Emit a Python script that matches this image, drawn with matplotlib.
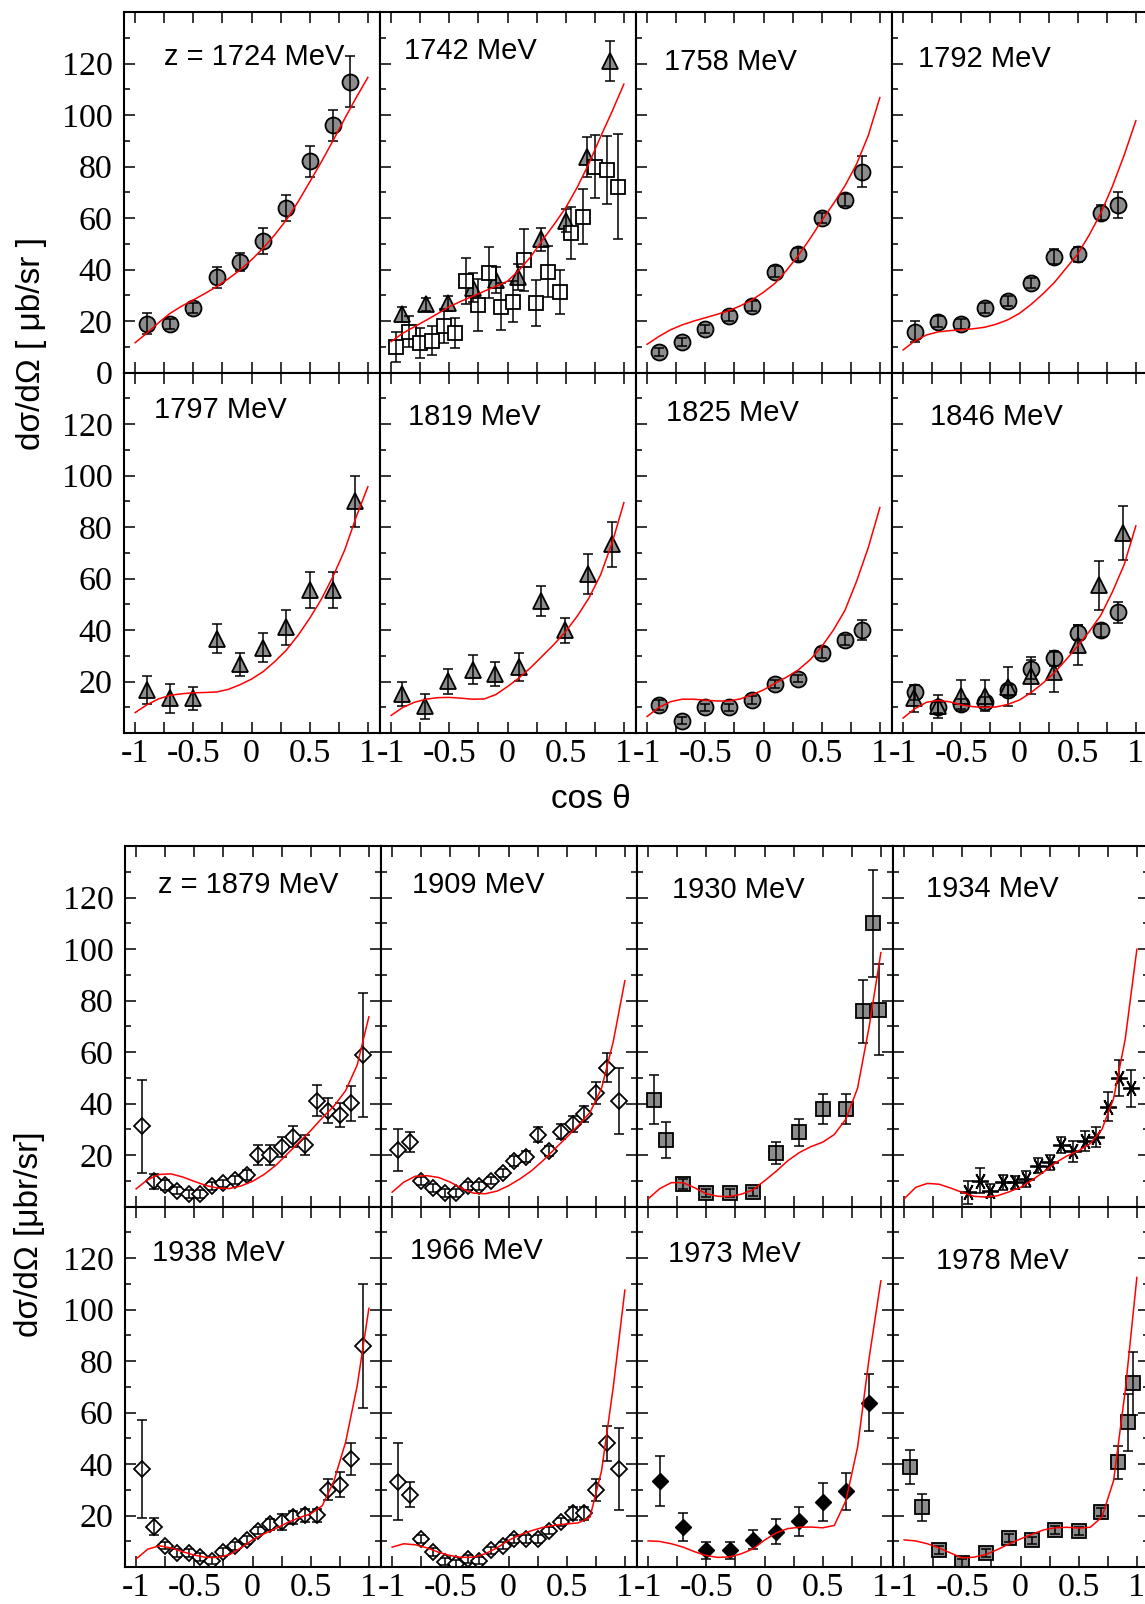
import matplotlib
matplotlib.use('Agg')
import matplotlib.pyplot as plt
from matplotlib.ticker import MultipleLocator

plt.rcParams['axes.unicode_minus'] = False
plt.rcParams['font.family'] = 'Liberation Serif'

# ---------------------------------------------------------------- data
# x grid on which the fitted curves were read off
cos_grid = [-1.0, -0.9, -0.8, -0.7, -0.6, -0.5, -0.4, -0.3, -0.2, -0.1, 0.0,
            0.1, 0.2, 0.3, 0.4, 0.5, 0.6, 0.7, 0.8, 0.9, 1.0]

cos_10 = [-0.9, -0.7, -0.5, -0.3, -0.1, 0.1, 0.3, 0.5, 0.7, 0.85]
cos_20 = [-0.95, -0.85, -0.75, -0.65, -0.55, -0.45, -0.35, -0.25, -0.15, -0.05,
          0.05, 0.15, 0.25, 0.35, 0.45, 0.55, 0.65, 0.75, 0.85, 0.95]

# 1724 MeV
c1724_y = [19, 19, 25, 37, 43, 51, 64, 82, 96, 113]
c1724_e = [4, 2, 2, 4, 3.5, 5, 5, 6, 6, 10]
fit_1724 = [11.6, 15.3, 19.3, 23, 25.8, 28.2, 30.7, 33.4, 36.4, 39.8, 43.8,
            48.3, 53.5, 59.3, 66.3, 74, 81.8, 90, 98.5, 106.8, 114.6]

# 1742 MeV
t1742_x = [-0.91, -0.70, -0.51, -0.30, -0.10, 0.09, 0.29, 0.50, 0.685, 0.88]
t1742_y = [22.6, 26.6, 26.9, 33, 36, 37, 51.7, 59, 83.8, 121]
t1742_e = [3, 2.5, 3, 5.5, 5, 5, 4.5, 4.4, 7.7, 7.6]
s1742_x = [-0.957, -0.85, -0.75, -0.65, -0.55, -0.45, -0.355, -0.255, -0.155, -0.054,
           0.046, 0.146, 0.246, 0.347, 0.447, 0.547, 0.648, 0.751, 0.851, 0.948]
s1742_y = [10.1, 15.9, 11.4, 12.4, 18.1, 15.3, 35.6, 26.3, 38.8, 25.6,
           27.5, 43.7, 26.9, 39.2, 31.2, 54.1, 60.5, 79.9, 78.6, 72.1]
s1742_e = [5.8, 6, 5.8, 5.5, 6.5, 5.8, 9, 10, 10, 9,
           8, 12, 9, 10, 8.6, 10, 10.7, 12.3, 13.3, 20.4]
fit_1742 = [12, 15.3, 17.8, 20.3, 22.9, 25.6, 27.7, 29.6, 31.6, 33.5, 35.5,
            39.8, 45, 51.4, 57.5, 64, 72, 81.2, 91.6, 101.5, 112]

# 1758 MeV
c1758_y = [7.9, 12, 16.8, 22, 25.9, 39.2, 46, 59.9, 67, 77.9]
c1758_e = [1.5, 1.5, 1.5, 2, 2, 2, 2.5, 2, 2.5, 6]
fit_1758 = [11, 14, 16.6, 18.5, 20, 21.3, 22.6, 24, 25.9, 28.2, 31.2,
            34.7, 39.8, 45.5, 52, 59, 65.5, 72.5, 81, 92, 106.8]

# 1792 MeV
c1792_y = [15.9, 19.8, 18.9, 25, 27.9, 34.9, 45, 45.9, 62.1, 65]
c1792_e = [4, 2, 2, 2, 2, 2, 3, 3, 3, 5]
fit_1792 = [8.8, 12.3, 14.6, 15.8, 16.3, 16.6, 17, 17.6, 18.8, 20.5, 23,
            26.5, 30.5, 35, 40.5, 46, 53.5, 62, 72.5, 84.5, 97.8]

# 1797 MeV
t1797_x = [-0.9, -0.7, -0.5, -0.3, -0.1, 0.1, 0.3, 0.5, 0.7, 0.89]
t1797_y = [16.8, 13.5, 13.5, 36.7, 26.7, 33.2, 41.1, 55.6, 55.6, 90]
t1797_e = [5.6, 5.6, 4.3, 5.6, 4.4, 5.6, 6.8, 6.8, 6.8, 10]
fit_1797 = [8, 11, 13.3, 14.7, 15.3, 15.7, 15.8, 16, 17, 18.8, 21,
            23.9, 27.8, 32.3, 38, 44.6, 52, 60.8, 71, 84, 95.7]

# 1819 MeV
t1819_x = [-0.91, -0.71, -0.51, -0.30, -0.11, 0.095, 0.29, 0.49, 0.69, 0.897]
t1819_y = [15.2, 10.4, 20.1, 24.7, 22.9, 25.7, 51.4, 39.9, 61.8, 73.3]
t1819_e = [4.8, 4.8, 4.8, 5.7, 4.7, 5.6, 5.8, 4.7, 7.8, 8.6]
fit_1819 = [6.9, 10, 12, 13.2, 13.8, 13.9, 13.6, 13.2, 13.3, 15, 18.1,
            21.5, 25.5, 30, 34.5, 39.5, 45.5, 52.5, 61.5, 74, 89.5]

# 1825 MeV
c1825_y = [11, 4.9, 10, 10, 13, 19.2, 21.2, 31.3, 36.1, 40]
c1825_e = [2, 1.5, 1.5, 1.5, 1.5, 1.5, 1.5, 2, 2, 4]
fit_1825 = [6.5, 10, 12.2, 13.2, 13.2, 12.8, 12.5, 12.5, 13.3, 14.9, 16.8,
            19.4, 21.8, 24.6, 28.5, 33.6, 40, 47.7, 59, 72, 87.6]

# 1846 MeV
c1846_y = [15.9, 10, 11.3, 12.1, 16.6, 24.9, 29.1, 39, 40, 46.9]
c1846_e = [3, 2, 2, 2, 2, 3.7, 3, 3, 2.5, 4.2]
t1846_x = [-0.91, -0.7, -0.5, -0.3, -0.1, 0.1, 0.3, 0.5, 0.685, 0.89]
t1846_y = [13.5, 10.4, 14.6, 14.6, 18, 22.4, 23.8, 34.1, 57.4, 77.6]
t1846_e = [5.3, 4.5, 6.1, 6.1, 7.6, 7.1, 7.9, 7.8, 9.6, 10.5]
fit_1846 = [5.9, 9.5, 12, 12.7, 12.2, 11, 10.3, 10, 10.2, 11.2, 12.9,
            15.8, 19.4, 23.5, 28.5, 33.9, 39.5, 45.9, 55, 65.5, 80.5]

# 1879 MeV
d1879_y = [31.1, 9.8, 8.5, 6.2, 4.9, 4.9, 8.1, 9, 10.3, 12.3,
           20, 20, 23.3, 27.2, 23.9, 41.1, 37.2, 35.7, 40.1, 58.8]
d1879_e = [18, 2.8, 2, 1.5, 1.5, 1.5, 1.5, 1.5, 1.5, 2,
           3.9, 3.9, 3.9, 4.1, 3.9, 6.1, 4.8, 4.7, 6.8, 24]
fit_1879 = [6.9, 10.5, 12.5, 12.7, 11.5, 9.8, 8.2, 7.2, 7, 8, 9.8,
            12.5, 16, 20.5, 25, 29.5, 34.5, 39, 45, 55, 73.7]

# 1909 MeV
d1909_y = [22, 25, 9.8, 7.1, 5.3, 5.2, 8.1, 8.1, 10.1, 13.1,
           17.8, 19.4, 27.9, 21.7, 29.1, 32.1, 35.9, 44.1, 54, 41.1]
d1909_e = [8.1, 3.9, 1.5, 1.5, 1.5, 1.5, 1.5, 1.5, 1.5, 1.5,
           2, 2, 3, 2, 3, 3, 3.1, 4.1, 5.8, 12.9]
fit_1909 = [5.6, 9.5, 11.8, 12, 11.3, 9.5, 7, 5.2, 5, 6, 8.1,
            10.8, 14, 18, 22.5, 26.9, 31.5, 36.5, 46, 64, 87.7]

# 1930 MeV
s1930_x = [-0.95, -0.85, -0.7, -0.5, -0.3, -0.1, 0.1, 0.3, 0.5, 0.7, 0.85, 0.93, 0.98]
s1930_y = [41.4, 25.9, 8.8, 5.2, 5.2, 5.8, 20.7, 28.8, 37.9, 37.9, 75.8, 110, 76.4]
s1930_e = [9.5, 7.1, 2, 1.5, 1.5, 1.5, 4.2, 5.2, 5.8, 5.8, 12.3, 20.8, 17.6]
fit_1930 = [3, 7, 9.3, 9.3, 7.3, 5, 4, 3.9, 4.8, 6.5, 10,
            13.7, 17.8, 21, 23.3, 25, 28, 34, 46, 70, 98.6]

# 1934 MeV
a1934_x = [-0.45, -0.35, -0.26, -0.15, -0.05, 0.05, 0.15, 0.25, 0.35, 0.45,
           0.55, 0.65, 0.75, 0.85, 0.95]
a1934_y = [5.5, 10.1, 6.2, 9.4, 9.4, 10.7, 15.9, 17.2, 24, 21.5,
           25.6, 26.9, 38.8, 49.9, 45.9]
a1934_e = [4.5, 4.7, 2.6, 3, 2.5, 3, 3, 3, 3.2, 4, 3.9, 3.9, 5.7, 6.9, 7.2]
fit_1934 = [3, 7.5, 9, 8.7, 7.2, 5.5, 4, 3.7, 4.2, 5.7, 7.5,
            10.3, 13.5, 17, 19.7, 21.7, 24.5, 30, 42, 65, 99.9]

# 1938 MeV
d1938_y = [38.1, 15.8, 8.4, 5.4, 5.4, 3.9, 2.6, 5.8, 8.2, 10.6,
           14.2, 16.6, 17.5, 19.4, 20.1, 20.1, 30, 32, 42, 86]
d1938_e = [19.1, 3.2, 1.5, 1.5, 1.5, 1.5, 1.5, 1.5, 1.5, 1.5,
           1.5, 2, 3.1, 2.5, 2.5, 2.5, 4.1, 4.8, 6.1, 24]
fit_1938 = [3.2, 7, 8.3, 7.5, 6, 4.7, 3.8, 3.8, 4.8, 7.5, 10.6,
            13, 15, 17.3, 19.2, 20.7, 23.9, 33.5, 48.5, 70.5, 100.5]

# 1966 MeV
d1966_y = [33.2, 28.2, 11, 5.8, 2.2, 1.3, 3.3, 2.6, 6.5, 8.4,
           11, 11, 11, 14.2, 17.5, 21, 21, 30, 48.1, 38.2]
d1966_e = [14.9, 5, 1.5, 1.5, 1.5, 1.5, 1.5, 1.5, 1.5, 1.5,
           1.5, 1.5, 1.5, 1.5, 1.5, 2.5, 2.5, 4.2, 6.9, 15.9]
fit_1966 = [7.8, 9.1, 8.7, 7.5, 5.8, 4.5, 3.8, 3.9, 5.2, 7.5, 10.4,
            12.6, 14.2, 15.5, 16.3, 16.8, 17.2, 19.4, 37.5, 69.8, 107.6]

# 1973 MeV
k1973_x = [-0.9, -0.7, -0.5, -0.3, -0.1, 0.1, 0.3, 0.5, 0.7, 0.9]
k1973_y = [33.4, 15.5, 6.5, 6.5, 10.6, 13.8, 17.8, 25.2, 29.4, 63.8]
k1973_e = [9.8, 5.4, 3.2, 3.2, 3.7, 4.8, 5.6, 7.4, 7.3, 11.1]
fit_1973 = [10.2, 10, 9.1, 7.8, 6, 4.5, 3.8, 4, 5.2, 7.1, 10.5,
            13.3, 15, 15.5, 15.6, 15.3, 16.2, 25.9, 46.6, 81.5, 111.2]

# 1978 MeV
s1978_x = [-0.95, -0.85, -0.7, -0.5, -0.3, -0.1, 0.1, 0.3, 0.5, 0.69, 0.84, 0.92, 0.97]
s1978_y = [38.8, 23.3, 6.7, 1.6, 5.4, 11.4, 10.4, 14.5, 14, 21.3, 40.7, 56.2, 71.4]
s1978_e = [6.6, 5.2, 1.5, 1.5, 1.5, 1.5, 1.5, 1.5, 1.5, 1.5, 6.5, 10.9, 12.2]
fit_1978 = [10.6, 10.2, 9.1, 7.5, 5.5, 3.6, 3.9, 4.9, 6.8, 9, 11,
            12.8, 14.5, 15.3, 15.5, 15.2, 15.5, 19.5, 33.6, 68.5, 112.5]

# panel titles, fit curve and data sets (x, y, err, symbol kind)
panels = [
    ('z = 1724 MeV', fit_1724, [(cos_10, c1724_y, c1724_e, 'circle')]),
    ('1742 MeV', fit_1742, [(t1742_x, t1742_y, t1742_e, 'triangle'),
                            (s1742_x, s1742_y, s1742_e, 'open_square')]),
    ('1758 MeV', fit_1758, [(cos_10, c1758_y, c1758_e, 'circle')]),
    ('1792 MeV', fit_1792, [(cos_10, c1792_y, c1792_e, 'circle')]),
    ('1797 MeV', fit_1797, [(t1797_x, t1797_y, t1797_e, 'triangle')]),
    ('1819 MeV', fit_1819, [(t1819_x, t1819_y, t1819_e, 'triangle')]),
    ('1825 MeV', fit_1825, [(cos_10, c1825_y, c1825_e, 'circle')]),
    ('1846 MeV', fit_1846, [(cos_10, c1846_y, c1846_e, 'circle'),
                            (t1846_x, t1846_y, t1846_e, 'triangle')]),
    ('z = 1879 MeV', fit_1879, [(cos_20, d1879_y, d1879_e, 'open_diamond')]),
    ('1909 MeV', fit_1909, [(cos_20, d1909_y, d1909_e, 'open_diamond')]),
    ('1930 MeV', fit_1930, [(s1930_x, s1930_y, s1930_e, 'gray_square')]),
    ('1934 MeV', fit_1934, [(a1934_x, a1934_y, a1934_e, 'asterisk')]),
    ('1938 MeV', fit_1938, [(cos_20, d1938_y, d1938_e, 'open_diamond')]),
    ('1966 MeV', fit_1966, [(cos_20, d1966_y, d1966_e, 'open_diamond')]),
    ('1973 MeV', fit_1973, [(k1973_x, k1973_y, k1973_e, 'black_diamond')]),
    ('1978 MeV', fit_1978, [(s1978_x, s1978_y, s1978_e, 'gray_square')]),
]

# ---------------------------------------------------------------- style
gray = '#8c8c8c'
symbols = {
    'circle':        dict(marker='o', ms=11.5, mfc=gray, mec='k', mew=1.3),
    'triangle':      dict(marker='^', ms=11.5, mfc=gray, mec='k', mew=1.3),
    'open_square':   dict(marker='s', ms=10.5, mfc='white', mec='k', mew=1.3),
    'open_diamond':  dict(marker='D', ms=8.5, mfc='white', mec='k', mew=1.3),
    'gray_square':   dict(marker='s', ms=10, mfc=gray, mec='k', mew=1.3),
    'asterisk':      dict(marker=(6, 2, 30), ms=12, mfc='k', mec='k', mew=1.3),
    'black_diamond': dict(marker='D', ms=8.5, mfc='k', mec='k', mew=1.0),
}

# label offsets from the panel's upper left corner, pixels
label_off = [(40, 45), (24, 39), (29, 50), (27, 47),
             (30, 37), (29, 44), (31, 40), (38, 44),
             (34, 39), (31, 39), (35, 44), (34, 43),
             (27, 46), (29, 44), (31, 47), (43, 54)]

W, H = 1145, 1604
fig = plt.figure(figsize=(W / 100, H / 100), dpi=100)

pw, ph = 256.0, 360.6
block_top = [12.0, 846.0]
block_left = [123.5, 124.5]
sans = 'Liberation Sans'

for i, (title, fit, sets) in enumerate(panels):
    block = i // 8
    row = (i % 8) // 4
    col = i % 4
    left = block_left[block] + col * pw
    top = block_top[block] + row * ph
    ax = fig.add_axes([left / W, 1 - (top + ph) / H, pw / W, ph / H])

    ax.plot(cos_grid, fit, color='red', lw=1.1, zorder=4)
    for x, y, e, kind in sets:
        ax.plot(x, y, ls='none', zorder=2, **symbols[kind])
        ax.errorbar(x, y, yerr=e, fmt='none', ecolor='k', elinewidth=1.1,
                    capsize=3.8, capthick=1.1, zorder=3)

    ax.set_xlim(-1.1, 1.1)
    ax.set_ylim(0, 140)
    ax.xaxis.set_major_locator(MultipleLocator(0.5))
    ax.xaxis.set_minor_locator(MultipleLocator(0.25))
    ax.set_yticks([0, 20, 40, 60, 80, 100, 120])
    ax.yaxis.set_minor_locator(MultipleLocator(10))

    for sp in ax.spines.values():
        sp.set_linewidth(1.5)
    ax.tick_params(which='both', direction='in', top=True, bottom=True,
                   left=True, right=(block == 1), width=1.1)
    ax.tick_params(axis='x', which='both', length=8, pad=4, labelsize=24.5)
    ax.tick_params(axis='y', which='major', length=8, pad=8, labelsize=24.5)
    ax.tick_params(axis='y', which='minor', length=4)

    if row == 1:
        ax.set_xticks([-1, -0.5, 0, 0.5, 1])
        ax.set_xticklabels(['-1', '-0.5', '0', '0.5', '1'])
    else:
        ax.set_xticklabels([])
    if col == 0:
        if block == 0 and row == 0:
            ax.set_yticklabels(['0', '20', '40', '60', '80', '100', '120'])
        else:
            ax.set_yticklabels(['', '20', '40', '60', '80', '100', '120'])
    else:
        ax.set_yticklabels([])

    dx, dy = label_off[i]
    ax.text(dx / pw, 1 - dy / ph, title, transform=ax.transAxes,
            ha='left', va='center', fontsize=21, family=sans)

fig.text(32 / W, 1 - 343 / H, 'dσ/dΩ [ μb/sr ]', rotation=90,
         ha='center', va='center', fontsize=24, family=sans)
fig.text(30 / W, 1 - 1234 / H, 'dσ/dΩ [μbr/sr]', rotation=90,
         ha='center', va='center', fontsize=24, family=sans)
fig.text(591 / W, 1 - 800 / H, 'cos θ', ha='center', va='center',
         fontsize=24, family=sans)

fig.savefig('out.png', dpi=100)
